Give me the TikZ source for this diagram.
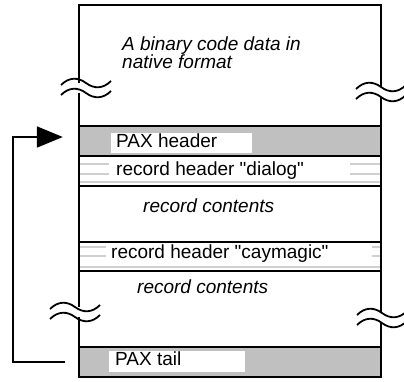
\documentclass[tikz,border=0pt]{standalone}
\usepackage{fontspec}
\setmainfont{Liberation Sans}
\usepackage{xcolor}
\usetikzlibrary{arrows.meta}
\definecolor{paxgray}{RGB}{192,192,192}
\definecolor{stripegray}{RGB}{208,208,208}
% break mark: start x, upper wave y, edge x
\newcommand{\cutmark}[3]{%
  \fill[white] (#3-3,#2) rectangle (#3+3,#2+10);
  \draw[wave] (#1,#2+2) .. controls (#1+8,#2-6) and (#1+17,#2-6) .. (#1+25,#2) .. controls (#1+33,#2+6) and (#1+42,#2+6) .. (#1+50,#2-2);
  \draw[wave] (#1,#2+12) .. controls (#1+8,#2+4) and (#1+17,#2+4) .. (#1+25,#2+10) .. controls (#1+33,#2+16) and (#1+42,#2+16) .. (#1+50,#2+8);
}
\tikzset{
  band/.style={draw=none, minimum width=302pt, inner sep=0pt},
  frame/.style={line width=1.8pt},
  stripe/.style={line width=2pt, stripegray},
  wave/.style={line width=1.8pt},
  txt/.style={anchor=base west, inner sep=0pt},
  itxt/.style={txt, font=\fontsize{19}{18}\itshape\selectfont}
}
\begin{document}
\begin{tikzpicture}[x=1pt,y=-1pt,font=\fontsize{19}{18}\selectfont]
\useasboundingbox (0,0) rectangle (404,381);
% gray bands
\node[band, fill=paxgray, minimum height=30pt] (paxhead) at (230,141) {};
\node[band, fill=paxgray, minimum height=30pt] (paxtail) at (230,362) {};
\fill[white] (111,133) rectangle (252,153);
\fill[white] (109,351) rectangle (245,372);
% record header stripes
\draw[stripe] (79,164) -- (109,164) (79,174) -- (109,174) (350,164) -- (381,164) (350,174) -- (381,174) (79,182) -- (381,182);
\draw[stripe] (79,247) -- (106,247) (79,256) -- (106,256) (372,247) -- (381,247) (372,256) -- (381,256) (79,267) -- (381,267);
% frame
\draw[frame] (79,5) rectangle (381,377);
\foreach \y in {126,156,186,242,271,347}
  \draw[frame] (79,\y) -- (381,\y);
% breaks
\cutmark{61}{83}{79}
\cutmark{356}{87}{381}
\cutmark{50}{307}{79}
\cutmark{357}{313}{381}
% texts
\node[itxt, align=left] (native) at (122,68) {A binary code data in\\native format};
\node[txt] (headtext) at (116,147) {PAX header};
\node[txt] (dialog) at (116,175) {record header \textquotedbl dialog\textquotedbl};
\node[itxt] (contents1) at (143,212) {record contents};
\node[txt] (caymagic) at (111,258) {record header \textquotedbl caymagic\textquotedbl};
\node[itxt] (contents2) at (137,293) {record contents};
\node[txt] (tailtext) at (115,365) {PAX tail};
% loop back arrow
\draw[frame, -{Triangle[length=26pt,width=21pt]}] ([xshift=-14pt]paxtail.west) -- ++(-52,0) |- ([xshift=-16pt,yshift=4pt]paxhead.west);
\end{tikzpicture}
\end{document}
